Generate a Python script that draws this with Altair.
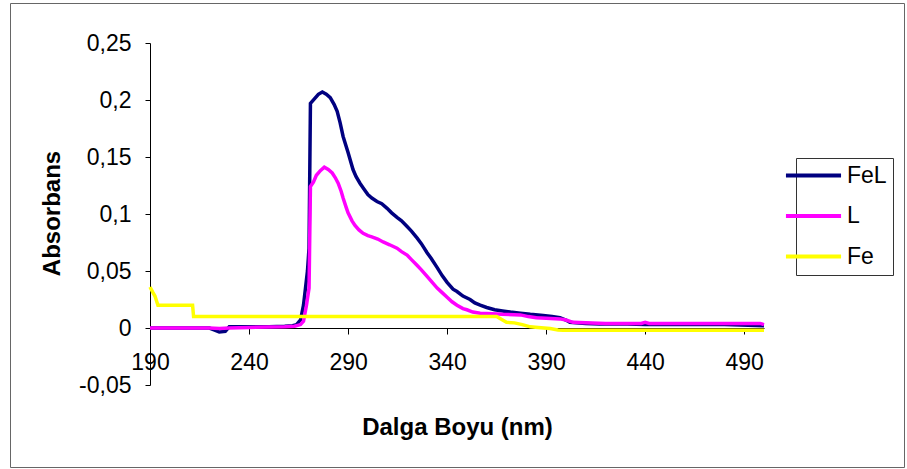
import altair as alt
import pandas as pd

# ---- data ----
fel_nm = [190, 200, 210, 220, 223, 225, 228, 230, 240, 250, 258, 262, 264, 266, 267.5, 268.5,
          269.5, 270.3, 271, 273, 275, 277, 279, 281, 283, 284.5, 286, 287.5, 290, 292.5, 294,
          296, 298, 300, 302, 304.6, 307, 309.7, 312, 314.7, 317, 319.8, 322, 324.8, 327, 329.9,
          332, 335, 337.5, 340, 343, 345, 348, 351.6, 354, 356.7, 360, 364, 368, 372, 377, 382,
          388.5, 393, 397, 400, 402, 405, 410, 417, 431, 440, 460, 480, 500]
fel_abs = [0, 0, 0, 0, -0.002, -0.0035, -0.003, 0.001, 0.001, 0.0012, 0.0015, 0.002, 0.003,
           0.007, 0.02, 0.035, 0.05, 0.07, 0.197, 0.201, 0.205, 0.207, 0.205, 0.202, 0.196, 0.19,
           0.18, 0.168, 0.154, 0.139, 0.133, 0.127, 0.122, 0.117, 0.114, 0.111, 0.109, 0.105,
           0.101, 0.097, 0.094, 0.089, 0.085, 0.079, 0.074, 0.066, 0.061, 0.053, 0.046, 0.040,
           0.034, 0.032, 0.028, 0.025, 0.022, 0.020, 0.018, 0.016, 0.015, 0.014, 0.013, 0.012,
           0.011, 0.010, 0.009, 0.007, 0.005, 0.0045, 0.004, 0.0035, 0.0035, 0.003, 0.003,
           0.003, 0.002]

l_nm = [190, 220, 225, 230, 240, 250, 258, 263, 266, 267.5, 269, 270.3, 271, 272.5, 274, 276,
        278, 280, 282, 283.5, 285, 286.5, 287.5, 289, 290, 292, 293.5, 295.5, 297.6, 300, 302,
        305, 307.7, 311, 314.7, 317, 319.8, 322, 324.8, 327, 330, 332.5, 335, 337.5, 340, 342.5,
        345, 348, 350, 353, 356.7, 360, 368, 377, 381, 385, 390, 397, 400, 403.6, 410, 420, 438,
        440, 442, 460, 480, 498, 500]
l_abs = [0, 0, -0.0005, 0, 0.0005, 0.0008, 0.001, 0.0015, 0.003, 0.006, 0.02, 0.035, 0.124,
         0.128, 0.134, 0.138, 0.141, 0.139, 0.136, 0.132, 0.127, 0.12, 0.114, 0.106, 0.101,
         0.094, 0.090, 0.086, 0.083, 0.081, 0.080, 0.078, 0.0755, 0.073, 0.070, 0.067, 0.064,
         0.060, 0.055, 0.051, 0.045, 0.040, 0.035, 0.031, 0.027, 0.023, 0.020, 0.017, 0.016,
         0.014, 0.013, 0.0128, 0.012, 0.0115, 0.010, 0.009, 0.0085, 0.008, 0.007, 0.005,
         0.0045, 0.004, 0.004, 0.005, 0.004, 0.004, 0.004, 0.004, 0.003]

fe_nm = [190, 191.5, 192.5, 194, 211.5, 212, 365, 368, 370, 374, 378, 382, 386, 392, 396,
         398.6, 500]
fe_abs = [0.036, 0.031, 0.028, 0.02, 0.02, 0.01, 0.01, 0.007, 0.005, 0.0045, 0.003, 0.001,
          0.0005, -0.0005, -0.0018, -0.002, -0.002]

series_names = ["FeL", "L", "Fe"]
series_colors = ["#000080", "#FF00FF", "#FFFF00"]
x_ticks = [190, 240, 290, 340, 390, 440, 490]
y_ticks = [-0.05, 0, 0.05, 0.1, 0.15, 0.2, 0.25]

rows = []
for name, xs, ys in zip(series_names, [fel_nm, l_nm, fe_nm], [fel_abs, l_abs, fe_abs]):
    for i, (xv, yv) in enumerate(zip(xs, ys)):
        rows.append({"series": name, "nm": xv, "abs": yv, "i": i})
df = pd.DataFrame(rows)

FONT = "Liberation Sans"

x_enc = alt.X(
    "nm:Q",
    scale=alt.Scale(domain=[190, 500], nice=False, zero=False),
    axis=alt.Axis(
        values=x_ticks, format="d", offset=-57, grid=False, tickSize=6, labelPadding=17,
        labelFontSize=23, labelFont=FONT, labelColor="black", labelFlush=False,
        labelOverlap=False, domainColor="black", tickColor="black",
        title="Dalga Boyu (nm)", titleFont=FONT, titleFontSize=24, titleFontWeight="bold",
        titleColor="black", titleY=99, titleBaseline="middle",
    ),
)
y_enc = alt.Y(
    "abs:Q",
    scale=alt.Scale(domain=[-0.05, 0.25], nice=False, zero=False),
    axis=alt.Axis(
        values=y_ticks,
        labelExpr="replace(replace(format(datum.value, '.2~f'), '.', ','), '\u2212', '-')",
        grid=False, tickSize=5, labelPadding=14, labelFontSize=23, labelFont=FONT,
        labelColor="black", labelOverlap=False, domainColor="black", tickColor="black",
        title="Absorbans", titleFont=FONT, titleFontSize=24, titleFontWeight="bold",
        titleColor="black", titleX=-98, titleY=170, titleAngle=270, titleAlign="center",
        titleBaseline="middle",
    ),
)
color_enc = alt.Color(
    "series:N",
    scale=alt.Scale(domain=series_names, range=series_colors),
    legend=alt.Legend(
        orient="none", legendX=646, legendY=115, title=None,
        symbolType="M-2.9,0L2.9,0", symbolSize=361, symbolStrokeWidth=4,
        labelFontSize=23, labelFont=FONT, labelColor="black", rowPadding=16.5,
        labelOffset=22, padding=6, strokeColor="#333333", fillColor="white",
    ),
)

layers = []
for name in series_names:
    layers.append(
        alt.Chart(df)
        .transform_filter(alt.datum.series == name)
        .mark_line(strokeWidth=3.5)
        .encode(x=x_enc, y=y_enc, color=color_enc, order="i:Q")
    )

frame = (
    alt.Chart(pd.DataFrame({"f": [0]}))
    .mark_rect(fillOpacity=0, stroke="#666666", strokeWidth=1)
    .encode(x=alt.value(-139.5), x2=alt.value(754.5), y=alt.value(-39.5), y2=alt.value(424.5))
)

chart = (
    alt.layer(frame, *layers)
    .properties(
        width=614, height=342,
        padding={"left": 150, "top": 43, "right": 143, "bottom": 84},
        autosize=alt.AutoSizeParams(type="none"),
        background="white",
    )
    .configure_view(stroke="transparent")
)

chart.save("out.html", embed_options={"renderer": "svg", "actions": False})
